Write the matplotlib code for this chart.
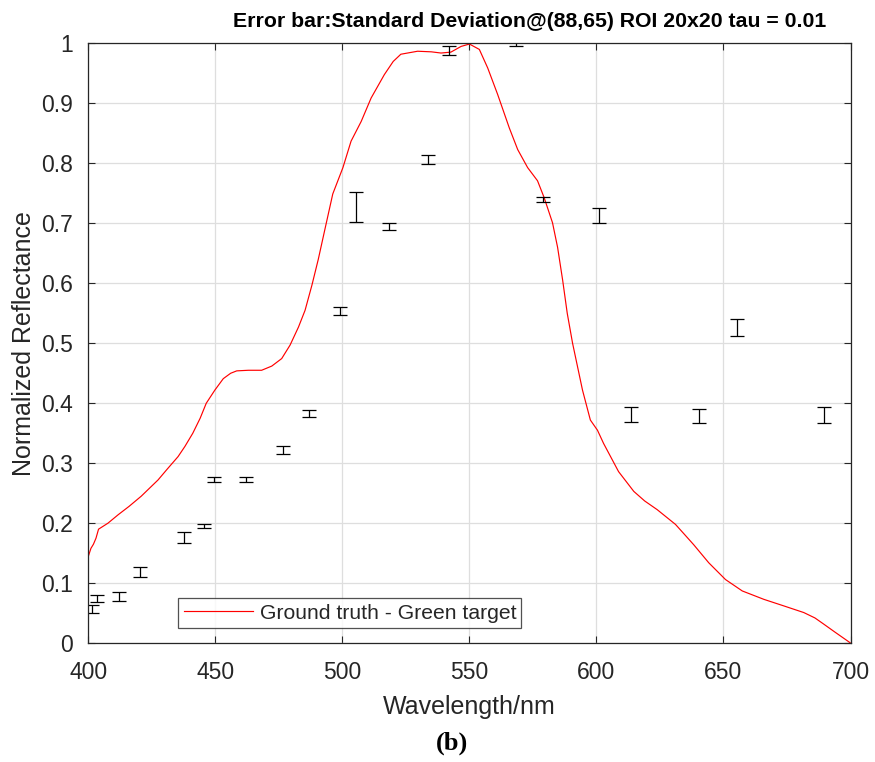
import numpy as np
import matplotlib.pyplot as plt

# ground truth reflectance curve
gt_wl = [400, 401, 402, 403, 404, 407.7, 411.7, 416, 420.8, 427.4, 431, 435.3,
         438, 441.1, 444, 446.4, 449.8, 453.1, 456, 458.4, 463, 468.2, 472.2,
         476.1, 479.4, 482.7, 485.3, 488, 490.5, 493, 496.2, 500.2, 503.4,
         507.4, 511.3, 516.5, 520, 523, 529.6, 535, 538.8, 542.7, 546.7, 550,
         553.9, 557.2, 561.1, 565.7, 569, 572.9, 576.8, 579.4, 582.7, 584.7,
         586.7, 588.5, 590.6, 594.5, 597.6, 600.4, 602.8, 608.7, 614.7, 619,
         623.9, 627, 631.1, 634.5, 638.3, 644.2, 650.8, 657.4, 665.9, 673.8,
         681.6, 686, 689.5, 694, 699.4, 700]
gt_val = [0.145, 0.158, 0.165, 0.175, 0.19, 0.20, 0.214, 0.228, 0.245, 0.272,
          0.29, 0.311, 0.328, 0.350, 0.375, 0.400, 0.422, 0.441, 0.45, 0.454,
          0.455, 0.455, 0.462, 0.4745, 0.497, 0.527, 0.555, 0.597, 0.64, 0.688,
          0.749, 0.793, 0.837, 0.870, 0.909, 0.948, 0.970, 0.982, 0.987, 0.986,
          0.984, 0.9855, 0.995, 0.999, 0.990, 0.959, 0.915, 0.859, 0.823,
          0.793, 0.771, 0.743, 0.701, 0.66, 0.605, 0.55, 0.50, 0.422, 0.372,
          0.355, 0.333, 0.286, 0.253, 0.237, 0.2226, 0.212, 0.198, 0.182,
          0.164, 0.134, 0.106, 0.087, 0.073, 0.062, 0.051, 0.042, 0.0316,
          0.018, 0.002, 0.0]

# measured points with standard deviation
meas_wl = [401.5, 403.5, 412, 420.5, 437.5, 445.5, 449.5, 462, 476.5, 487,
           499, 505.5, 518.5, 533.5, 542, 568.5, 579, 601, 613.5, 640.5,
           655.5, 689.5]
meas_mean = [0.057, 0.075, 0.078, 0.118, 0.176, 0.195, 0.273, 0.273, 0.322,
             0.383, 0.554, 0.728, 0.695, 0.807, 0.989, 0.999, 0.740, 0.713,
             0.381, 0.379, 0.526, 0.380]
meas_std = [0.007, 0.006, 0.007, 0.0085, 0.0095, 0.0035, 0.004, 0.004, 0.006,
            0.0055, 0.0065, 0.025, 0.006, 0.0075, 0.0075, 0.004, 0.0045,
            0.012, 0.012, 0.012, 0.014, 0.013]

txt = '#262626'
plt.rcParams['font.family'] = ['Liberation Sans', 'DejaVu Sans']

fig = plt.figure(figsize=(8.75, 7.62), dpi=100)
ax = fig.add_axes([0.101, 0.156, 0.871, 0.787])

ax.plot(gt_wl, gt_val, color='#ff0000', lw=0.85, label='Ground truth - Green target')
ax.errorbar(meas_wl, meas_mean, yerr=meas_std, fmt='none', ecolor='black',
            elinewidth=0.9, capsize=5, capthick=0.9)

ax.set_xlim(400, 700)
ax.set_ylim(0, 1)
ax.set_xticks(np.arange(400, 701, 50))
ax.set_yticks(np.arange(0, 1.01, 0.1))
ax.set_yticklabels(['0', '0.1', '0.2', '0.3', '0.4', '0.5', '0.6', '0.7', '0.8', '0.9', '1'])
ax.grid(True, color='#dedede', lw=0.9)
ax.set_axisbelow(True)
ax.tick_params(direction='in', length=5, width=0.8, colors=txt, labelsize=16.5,
               top=True, right=True, labeltop=False, labelright=False)
ax.tick_params(axis='x', pad=13)
ax.tick_params(axis='y', pad=11)
for s in ax.spines.values():
    s.set_color(txt)
    s.set_linewidth(0.9)

ax.set_xlabel('Wavelength/nm', fontsize=18, color=txt, labelpad=8)
ax.set_ylabel('Normalized Reflectance', fontsize=18, color=txt, labelpad=4)
fig.text(0.605, 0.972, 'Error bar:Standard Deviation@(88,65) ROI 20x20 tau = 0.01',
         ha='center', va='center', fontsize=15.3, fontweight='bold', color='black')

leg = ax.legend(loc='lower left', bbox_to_anchor=(0.118, 0.0255), fontsize=15.2,
                frameon=True, fancybox=False, edgecolor=txt, handlelength=3.3,
                borderpad=0.25, handletextpad=0.3, borderaxespad=0)
leg.get_frame().set_linewidth(0.9)
for t in leg.get_texts():
    t.set_color(txt)

fig.text(0.517, 0.025, '(b)', ha='center', va='center', fontsize=19,
         fontweight='bold', family='Liberation Serif')

fig.savefig('out.png', dpi=100)
